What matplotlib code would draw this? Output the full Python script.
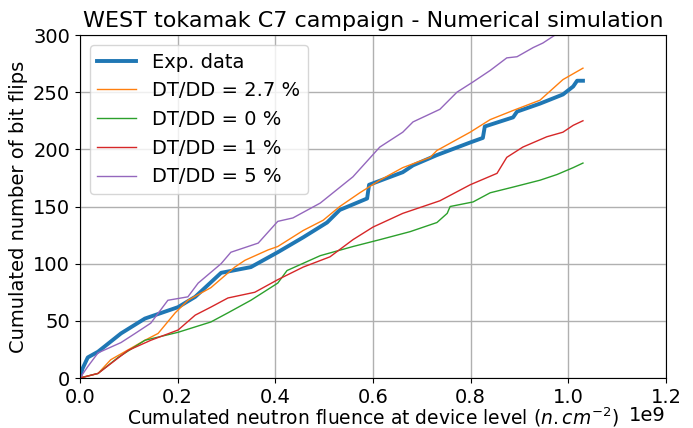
import matplotlib
matplotlib.use("Agg")
import matplotlib.pyplot as plt
import matplotlib.transforms as mtransforms
import numpy as np

# Fluence (x 1e9 n/cm2) and cumulated bit flips
exp_x = [0, 0.005, 0.016, 0.037, 0.084, 0.133, 0.201, 0.236, 0.289, 0.350, 0.405, 0.457,
         0.506, 0.532, 0.588, 0.592, 0.661, 0.682, 0.731, 0.799, 0.825, 0.829, 0.887,
         0.895, 0.942, 0.989, 1.010, 1.018, 1.030]
exp_y = [0, 8, 18, 23, 39, 52, 62, 71, 92, 97, 110, 123, 136, 147, 157, 169, 180, 186,
         195, 206, 210, 220, 228, 233, 240, 248, 255, 260, 260]

dt27_x = [0, 0.037, 0.063, 0.133, 0.160, 0.195, 0.221, 0.268, 0.317, 0.338, 0.385, 0.405,
          0.457, 0.498, 0.532, 0.573, 0.614, 0.661, 0.717, 0.731, 0.799, 0.840, 0.887,
          0.942, 0.989, 1.030]
dt27_y = [0, 4, 16, 33, 39, 57, 68, 79, 97, 103, 112, 115, 129, 138, 150, 162, 173, 184,
          193, 199, 215, 226, 234, 243, 261, 271]

dt0_x = [0, 0.037, 0.078, 0.133, 0.201, 0.268, 0.303, 0.350, 0.405, 0.424, 0.492, 0.559,
         0.614, 0.676, 0.731, 0.752, 0.758, 0.805, 0.840, 0.887, 0.942, 0.977, 1.010, 1.030]
dt0_y = [0, 4, 18, 33, 40, 49, 57, 68, 83, 94, 107, 115, 121, 128, 136, 144, 150, 154,
         162, 167, 173, 178, 184, 188]

dt1_x = [0, 0.037, 0.098, 0.145, 0.201, 0.236, 0.268, 0.303, 0.358, 0.405, 0.457, 0.512,
         0.559, 0.600, 0.661, 0.737, 0.799, 0.854, 0.874, 0.907, 0.956, 0.989, 1.010, 1.030]
dt1_y = [0, 4, 24, 33, 42, 55, 62, 70, 75, 86, 97, 106, 121, 132, 144, 155, 169, 179,
         193, 202, 211, 215, 221, 225]

dt5_x = [0, 0.016, 0.037, 0.084, 0.113, 0.145, 0.180, 0.221, 0.242, 0.289, 0.309, 0.365,
         0.405, 0.436, 0.492, 0.559, 0.614, 0.661, 0.682, 0.737, 0.772, 0.805, 0.840,
         0.874, 0.895, 0.928, 0.948, 0.973, 1.030]
dt5_y = [0, 10, 22, 31, 39, 48, 68, 71, 83, 100, 110, 118, 137, 140, 153, 176, 202, 215,
         224, 235, 250, 259, 269, 280, 281, 289, 293, 300, 318]

plt.rcParams['font.size'] = 14

fig = plt.figure(figsize=(6.93, 4.28), dpi=100)
ax = fig.add_axes([0.1154, 0.1168, 0.8456, 0.8014])

ax.plot(np.array(exp_x) * 1e9, exp_y, color='tab:blue', lw=2.8, label='Exp. data')
ax.plot(np.array(dt27_x) * 1e9, dt27_y, color='tab:orange', lw=1, label='DT/DD = 2.7 %')
ax.plot(np.array(dt0_x) * 1e9, dt0_y, color='tab:green', lw=1, label='DT/DD = 0 %')
ax.plot(np.array(dt1_x) * 1e9, dt1_y, color='tab:red', lw=1, label='DT/DD = 1 %')
ax.plot(np.array(dt5_x) * 1e9, dt5_y, color='tab:purple', lw=1, label='DT/DD = 5 %')

ax.set_xlim(0, 1.2e9)
ax.set_ylim(0, 300)
ax.grid(True, color='#b0b0b0', lw=1)
ax.set_xlabel(r'Cumulated neutron fluence at device level $(n.cm^{-2})$',
              fontsize=13.5, labelpad=-1)
# remonter un peu le "1e9" pour qu'il ne sorte pas de l'image
off = ax.xaxis.get_offset_text()
off.set_transform(off.get_transform() + mtransforms.ScaledTranslation(0, 5 / 100, fig.dpi_scale_trans))
ax.set_ylabel('Cumulated number of bit flips')
ax.set_title('WEST tokamak C7 campaign - Numerical simulation', fontsize=16)
ax.legend(loc='upper left')

fig.savefig('out.png', dpi=100)
